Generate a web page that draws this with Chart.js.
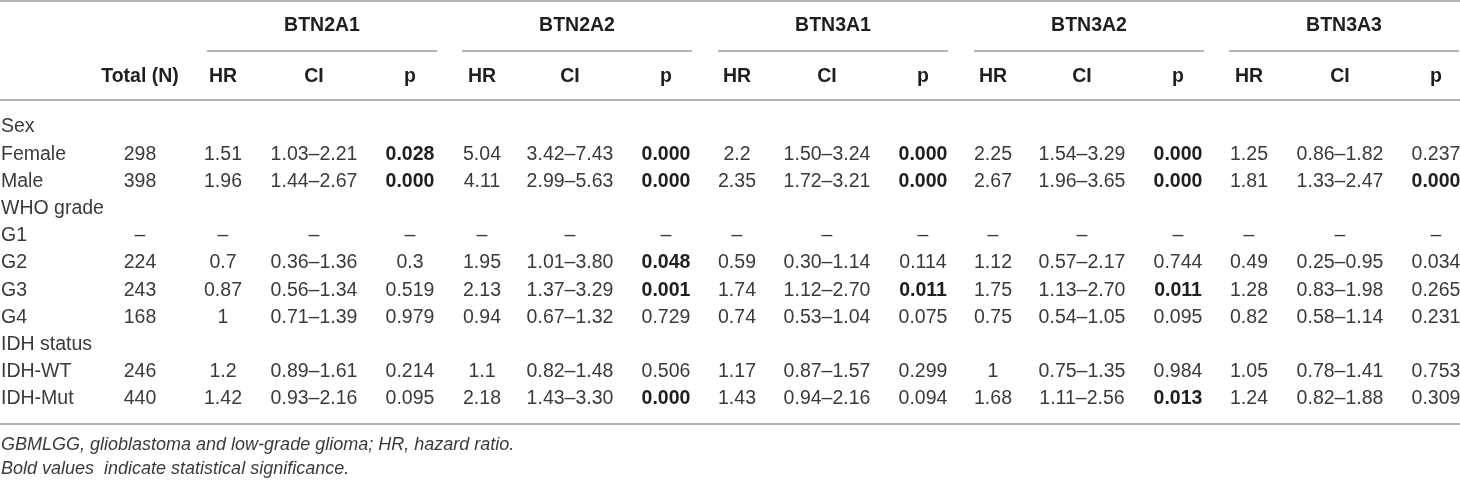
<!DOCTYPE html>
<html>
<head>
<meta charset="utf-8">
<script src="https://cdn.jsdelivr.net/npm/chart.js@4.4.0/dist/chart.umd.min.js"></script>
<style>
  html, body { margin: 0; padding: 0; background: #fff; }
  canvas { display: block; }
</style>
</head>
<body>
<canvas id="hrTable" width="1460" height="481"></canvas>
<script>
// table content
const rowLabels = ['Sex', 'Female', 'Male', 'WHO grade', 'G1', 'G2', 'G3', 'G4', 'IDH status', 'IDH-WT', 'IDH-Mut'];
const dataRows = [1, 2, 4, 5, 6, 7, 9, 10];
const totalN = ['298', '398', '–', '224', '243', '168', '246', '440'];
const genes = ['BTN2A1', 'BTN2A2', 'BTN3A1', 'BTN3A2', 'BTN3A3'];
const subHeaders = ['HR', 'CI', 'p'];

const hrValues = [
    ['1.51', '1.96', '–', '0.7', '0.87', '1', '1.2', '1.42'],
    ['5.04', '4.11', '–', '1.95', '2.13', '0.94', '1.1', '2.18'],
    ['2.2', '2.35', '–', '0.59', '1.74', '0.74', '1.17', '1.43'],
    ['2.25', '2.67', '–', '1.12', '1.75', '0.75', '1', '1.68'],
    ['1.25', '1.81', '–', '0.49', '1.28', '0.82', '1.05', '1.24']
];
const ciValues = [
    ['1.03–2.21', '1.44–2.67', '–', '0.36–1.36', '0.56–1.34', '0.71–1.39', '0.89–1.61', '0.93–2.16'],
    ['3.42–7.43', '2.99–5.63', '–', '1.01–3.80', '1.37–3.29', '0.67–1.32', '0.82–1.48', '1.43–3.30'],
    ['1.50–3.24', '1.72–3.21', '–', '0.30–1.14', '1.12–2.70', '0.53–1.04', '0.87–1.57', '0.94–2.16'],
    ['1.54–3.29', '1.96–3.65', '–', '0.57–2.17', '1.13–2.70', '0.54–1.05', '0.75–1.35', '1.11–2.56'],
    ['0.86–1.82', '1.33–2.47', '–', '0.25–0.95', '0.83–1.98', '0.58–1.14', '0.78–1.41', '0.82–1.88']
];
const pValues = [
    ['0.028', '0.000', '–', '0.3', '0.519', '0.979', '0.214', '0.095'],
    ['0.000', '0.000', '–', '0.048', '0.001', '0.729', '0.506', '0.000'],
    ['0.000', '0.000', '–', '0.114', '0.011', '0.075', '0.299', '0.094'],
    ['0.000', '0.000', '–', '0.744', '0.011', '0.095', '0.984', '0.013'],
    ['0.237', '0.000', '–', '0.034', '0.265', '0.231', '0.753', '0.309']
];
// bold = significant, as marked in the source
const pBold = [
    [true, true, false, false, false, false, false, false],
    [true, true, false, true, true, false, false, true],
    [true, true, false, false, true, false, false, false],
    [true, true, false, false, true, false, false, true],
    [false, true, false, false, false, false, false, false]
];
const footnotes = [
    'GBMLGG, glioblastoma and low-grade glioma; HR, hazard ratio.',
    'Bold values  indicate statistical significance.'
];

// layout (x in px units of the x scale, y in row units)
const labelX = 1;
const totalX = 140;
const groupStart = [207, 462, 718, 974, 1229];
const groupWidth = 230;
const hrX = [223, 482, 737, 993, 1249];
const ciX = [314, 570, 827, 1082, 1340];
const pX = [410, 666, 923, 1178, 1436];
const rowY = { top: -4.63, gene: -3.72, geneRule: -2.79, sub: -1.84, headRule: -0.99, bottom: 10.92, foot1: 11.69, foot2: 12.57 };

const FONT = '"Liberation Sans", Arial, Helvetica, sans-serif';
const TEXT_COLOR = '#3a3a3a';
const BOLD_COLOR = '#1f1f1f';
const RULE_COLOR = '#9a9a9a';

function column(x, ys, texts, opts) {
    opts = opts || {};
    return {
        data: ys.map(y => ({ x: x, y: y })),
        texts: texts,
        bold: opts.bold || texts.map(() => !!opts.allBold),
        italic: !!opts.italic,
        size: opts.size || 19.5,
        align: opts.align || 'center',
        pointRadius: 0,
        showLine: false
    };
}

const datasets = [];
datasets.push(column(labelX, rowLabels.map((_, i) => i), rowLabels, { align: 'left' }));
datasets.push(column(totalX, dataRows, totalN));
datasets.push(column(totalX, [rowY.sub], ['Total (N)'], { allBold: true }));
genes.forEach((gene, g) => {
    datasets.push(column(groupStart[g] + groupWidth / 2, [rowY.gene], [gene], { allBold: true }));
    datasets.push(column(hrX[g], [rowY.sub], [subHeaders[0]], { allBold: true }));
    datasets.push(column(ciX[g], [rowY.sub], [subHeaders[1]], { allBold: true }));
    datasets.push(column(pX[g], [rowY.sub], [subHeaders[2]], { allBold: true }));
    datasets.push(column(hrX[g], dataRows, hrValues[g]));
    datasets.push(column(ciX[g], dataRows, ciValues[g]));
    datasets.push(column(pX[g], dataRows, pValues[g], { bold: pBold[g] }));
});
datasets.push(column(labelX, [rowY.foot1, rowY.foot2], footnotes, { align: 'left', italic: true, size: 18 }));

const tablePlugin = {
    id: 'tableText',
    afterDatasetsDraw(chart) {
        const ctx = chart.ctx;
        const xs = chart.scales.x;
        const ys = chart.scales.y;
        ctx.save();

        // rules
        ctx.strokeStyle = RULE_COLOR;
        ctx.lineWidth = 1.5;
        const rule = (x0, x1, y) => {
            const py = ys.getPixelForValue(y);
            ctx.beginPath();
            ctx.moveTo(xs.getPixelForValue(x0), py);
            ctx.lineTo(xs.getPixelForValue(x1), py);
            ctx.stroke();
        };
        rule(0, 1460, rowY.top);
        rule(0, 1460, rowY.headRule);
        rule(0, 1460, rowY.bottom);
        groupStart.forEach(s => rule(s, s + groupWidth, rowY.geneRule));

        // cell text
        ctx.textBaseline = 'middle';
        chart.data.datasets.forEach((ds, i) => {
            const meta = chart.getDatasetMeta(i);
            ctx.textAlign = ds.align;
            meta.data.forEach((pt, j) => {
                const b = ds.bold[j];
                ctx.font = (ds.italic ? 'italic ' : '') + (b ? 'bold ' : '') + ds.size + 'px ' + FONT;
                ctx.fillStyle = b ? BOLD_COLOR : TEXT_COLOR;
                ctx.fillText(ds.texts[j], pt.x, pt.y);
            });
        });
        ctx.restore();
    }
};

new Chart(document.getElementById('hrTable'), {
    type: 'scatter',
    data: { datasets: datasets },
    options: {
        responsive: false,
        animation: false,
        events: [],
        layout: { padding: 0 },
        plugins: { legend: { display: false }, tooltip: { enabled: false } },
        scales: {
            x: { type: 'linear', min: 0, max: 1460, display: false },
            y: { type: 'linear', min: -4.669, max: 13.015, reverse: true, display: false }
        }
    },
    plugins: [tablePlugin]
});
</script>
</body>
</html>
